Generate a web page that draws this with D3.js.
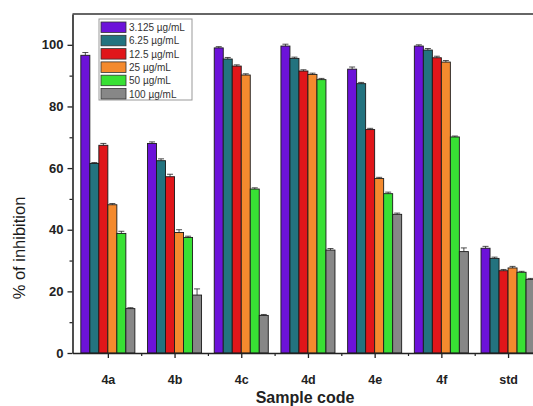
<!DOCTYPE html>
<html>
<head>
<meta charset="utf-8">
<script src="https://cdn.jsdelivr.net/npm/d3@7"></script>
<style>
  body { margin: 0; background: #fff; }
  svg { display: block; font-family: "Liberation Sans", Arial, sans-serif; }
</style>
</head>
<body>
<div id="chart"></div>
<script>
// Data
const samples = ["4a", "4b", "4c", "4d", "4e", "4f", "std"];
const concentrations = ["3.125 µg/mL", "6.25 µg/mL", "12.5 µg/mL", "25 µg/mL", "50 µg/mL", "100 µg/mL"];
const colors = ["#6c12d9", "#23737f", "#e0161a", "#f48a2e", "#38e034", "#878787"];

// one array per concentration, in sample order
const c3125 = [96.6, 68.0, 99.0, 99.6, 92.1, 99.6, 34.0];
const c625  = [61.5, 62.4, 95.4, 95.6, 87.4, 98.3, 30.7];
const c125  = [67.4, 57.2, 93.1, 91.5, 72.5, 95.8, 26.7];
const c25   = [48.1, 39.1, 90.2, 90.4, 56.6, 94.4, 27.6];
const c50   = [38.8, 37.5, 53.2, 88.7, 51.7, 70.1, 26.2];
const c100  = [14.4, 18.8, 12.2, 33.4, 45.0, 32.9, 23.9];
const seriesValues = [c3125, c625, c125, c25, c50, c100];

// error bars (standard deviation)
const e3125 = [0.9, 0.5, 0.4, 0.6, 0.7, 0.4, 0.6];
const e625  = [0.3, 0.6, 0.5, 0.4, 0.4, 0.5, 0.4];
const e125  = [0.6, 0.8, 0.4, 0.4, 0.4, 0.5, 0.4];
const e25   = [0.4, 0.9, 0.4, 0.4, 0.4, 0.5, 0.5];
const e50   = [0.7, 0.4, 0.4, 0.4, 0.5, 0.3, 0.3];
const e100  = [0.3, 2.0, 0.3, 0.5, 0.4, 1.2, 0.3];
const seriesErrors = [e3125, e625, e125, e25, e50, e100];

const yTicks = [0, 20, 40, 60, 80, 100];

const width = 533, height = 406;
const svg = d3.select("#chart").append("svg")
  .attr("width", width)
  .attr("height", height);

// Scales
const x = d3.scaleLinear()
  .domain([0.47, 7.6])
  .range([72.5, 72.5 + 7.13 * 66.7]);

const y = d3.scaleLinear()
  .domain([0, 110])
  .range([353, 14]);

const barW = 0.135; // in x units

// Bars
seriesValues.forEach((vals, j) => {
  const g = svg.append("g");
  vals.forEach((v, i) => {
    const x0 = x(i + 1 + (j - 3) * barW);
    const x1 = x(i + 1 + (j - 2) * barW);
    g.append("rect")
      .attr("x", x0)
      .attr("y", y(v))
      .attr("width", x1 - x0)
      .attr("height", y(0) - y(v))
      .attr("fill", colors[j])
      .attr("stroke", "#1a1a1a")
      .attr("stroke-width", 0.9);

    // error bar (upper half)
    const cx = (x0 + x1) / 2;
    const err = seriesErrors[j][i];
    g.append("line")
      .attr("x1", cx).attr("x2", cx)
      .attr("y1", y(v)).attr("y2", y(v + err))
      .attr("stroke", "#222").attr("stroke-width", 0.8);
    g.append("line")
      .attr("x1", cx - 3).attr("x2", cx + 3)
      .attr("y1", y(v + err)).attr("y2", y(v + err))
      .attr("stroke", "#222").attr("stroke-width", 0.8);
  });
});

// Y axis
const yAxis = svg.append("g")
  .attr("transform", `translate(${x(0.47)},0)`)
  .call(d3.axisLeft(y).tickValues(yTicks).tickSize(5).tickSizeOuter(0).tickPadding(4));
yAxis.select(".domain").attr("stroke", "#222").attr("stroke-width", 1.6);
yAxis.selectAll(".tick line").attr("stroke", "#222").attr("stroke-width", 1.3);
yAxis.selectAll("text")
  .attr("font-size", 13).attr("font-weight", "bold").attr("fill", "#222")
  .attr("font-family", "Liberation Sans, Arial, sans-serif");

// Y minor ticks
svg.append("g")
  .attr("transform", `translate(${x(0.47)},0)`)
  .call(d3.axisLeft(y).tickValues([10, 30, 50, 70, 90]).tickSize(3).tickFormat(""))
  .call(g => g.select(".domain").remove())
  .selectAll("line").attr("stroke", "#222").attr("stroke-width", 1.2);

// X axis
const xAxis = svg.append("g")
  .attr("transform", `translate(0,${y(0)})`)
  .call(d3.axisBottom(x)
    .tickValues(d3.range(1, samples.length + 1))
    .tickFormat(d => samples[d - 1])
    .tickSize(5).tickSizeOuter(0).tickPadding(17));
xAxis.select(".domain").attr("stroke", "#222").attr("stroke-width", 1.6);
xAxis.selectAll(".tick line").attr("stroke", "#222").attr("stroke-width", 1.3);
xAxis.selectAll("text")
  .attr("font-size", 12.5).attr("font-weight", "bold").attr("fill", "#222")
  .attr("font-family", "Liberation Sans, Arial, sans-serif");

// X minor ticks
svg.append("g")
  .attr("transform", `translate(0,${y(0)})`)
  .call(d3.axisBottom(x).tickValues(d3.range(1.5, samples.length + 0.5, 1)).tickSize(3).tickFormat(""))
  .call(g => g.select(".domain").remove())
  .selectAll("line").attr("stroke", "#222").attr("stroke-width", 1.2);

// Top frame line
svg.append("line")
  .attr("x1", x(0.47)).attr("x2", width)
  .attr("y1", y(110)).attr("y2", y(110))
  .attr("stroke", "#333").attr("stroke-width", 1.6);

// Axis titles
svg.append("text")
  .attr("transform", `translate(25,248) rotate(-90)`)
  .attr("text-anchor", "middle")
  .attr("font-size", 16.5)
  .attr("fill", "#1a1a1a")
  .text("% of inhibition");

svg.append("text")
  .attr("x", 305)
  .attr("y", 403)
  .attr("text-anchor", "middle")
  .attr("font-size", 16)
  .attr("font-weight", "bold")
  .attr("fill", "#222")
  .text("Sample code");

// Legend
const legend = svg.append("g").attr("transform", "translate(99,19)");
legend.append("rect")
  .attr("x", 0).attr("y", 0)
  .attr("width", 93).attr("height", 81)
  .attr("fill", "#fff")
  .attr("stroke", "#999")
  .attr("stroke-width", 1);

concentrations.forEach((c, i) => {
  legend.append("rect")
    .attr("x", 2)
    .attr("y", 3 + i * 13.3)
    .attr("width", 25)
    .attr("height", 10.5)
    .attr("fill", colors[i])
    .attr("stroke", "#333")
    .attr("stroke-width", 0.8);
  legend.append("text")
    .attr("x", 30)
    .attr("y", 3 + i * 13.3 + 9)
    .attr("font-size", 10)
    .attr("fill", "#333")
    .text(c);
});
</script>
</body>
</html>
